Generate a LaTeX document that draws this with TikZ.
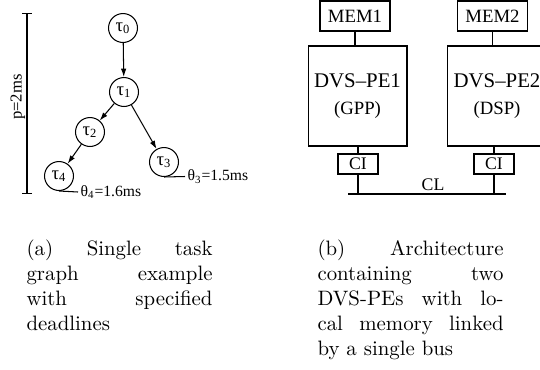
\documentclass[tikz,border=0pt]{standalone}
\usepackage{fontspec}
\newfontfamily\diagfont{Liberation Serif}
\usetikzlibrary{arrows.meta}

\begin{document}
\begin{tikzpicture}[x=0.48pt,y=-0.48pt,line width=0.5pt,
  task/.style={circle,draw,minimum size=13.9pt,inner sep=0pt,font=\diagfont\fontsize{9}{10}\selectfont},
  unit/.style={draw,inner sep=0pt,align=center,font=\diagfont\fontsize{10}{13}\selectfont},
  edge/.style={-{Latex[length=4pt,width=2.6pt]}},
  note/.style={anchor=west,inner sep=1pt,font=\diagfont\fontsize{7.5}{9}\selectfont},
  subcap/.style={anchor=north west,inner sep=0pt,text width=89.3pt,align=justify}]
\useasboundingbox (0,0) rectangle (540,369);

\coordinate (ptop) at (27,13);
\coordinate (pbot) at (27,194);
\draw[{Bar[width=4.8pt]}-{Bar[width=4.8pt]}] (ptop) -- (pbot);
\node[rotate=90,font=\diagfont\fontsize{8}{9}\selectfont] (period) at (18,97) {p=2ms};

\node[task] (t0) at (123,28) {τ\textsubscript{0}};
\node[task] (t1) at (124,92) {τ\textsubscript{1}};
\node[task] (t2) at (90,132) {τ\textsubscript{2}};
\node[task] (t3) at (164,162) {τ\textsubscript{3}};
\node[task] (t4) at (59,176) {τ\textsubscript{4}};
\draw[edge] (t0) -- (t1);
\draw[edge] (t1) -- (t2);
\draw[edge] (t1) -- (t3);
\draw[edge] (t2) -- (t4);

\coordinate (d4) at (78,192);
\coordinate (d3) at (185,176.5);
\draw (t4.south) -- (d4) node[note] (dl4) {θ\textsubscript{4}=1.6ms};
\draw (t3.south) -- (d3) node[note] (dl3) {θ\textsubscript{3}=1.5ms};

\node[unit,minimum width=33.6pt,minimum height=14.4pt,font=\diagfont\fontsize{9}{10}\selectfont] (mem1) at (355,16) {MEM1};
\node[unit,minimum width=33.2pt,minimum height=14.4pt,font=\diagfont\fontsize{9}{10}\selectfont] (mem2) at (492.5,16) {MEM2};
\node[unit,minimum width=47.5pt,minimum height=48pt] (pe1) at (357.5,96) {DVS–PE1\\{\fontsize{9}{10}\selectfont (GPP)}};
\node[unit,minimum width=47.5pt,minimum height=48pt] (pe2) at (497,96) {DVS–PE2\\{\fontsize{9}{10}\selectfont (DSP)}};
\node[unit,minimum width=19.2pt,minimum height=9.6pt,font=\diagfont\fontsize{8.5}{9}\selectfont] (ci1) at (358,164) {CI};
\node[unit,minimum width=19.2pt,minimum height=9.6pt,font=\diagfont\fontsize{8.5}{9}\selectfont] (ci2) at (494,164) {CI};

\coordinate (busl) at (348,194);
\coordinate (busr) at (506,194);
\draw (busl) -- (busr);
\node[font=\diagfont\fontsize{8.5}{9}\selectfont] (bus) at (433,185) {CL};
\draw (mem1.south) -- (mem1.south |- pe1.north);
\draw (mem2.south) -- (mem2.south |- pe2.north);
\draw (ci1.north |- pe1.south) -- (ci1.north);
\draw (ci2.north |- pe2.south) -- (ci2.north);
\draw (ci1.south) -- (ci1.south |- busl);
\draw (ci2.south) -- (ci2.south |- busl);

\node[subcap] (capa) at (26,239) {(a) Single task\linebreak graph example\linebreak with specified\linebreak deadlines};
\node[subcap] (capb) at (317,239) {(b) Architecture\linebreak containing two\linebreak DVS-PEs with lo-\linebreak cal memory linked\linebreak by a single bus};
\end{tikzpicture}
\end{document}
